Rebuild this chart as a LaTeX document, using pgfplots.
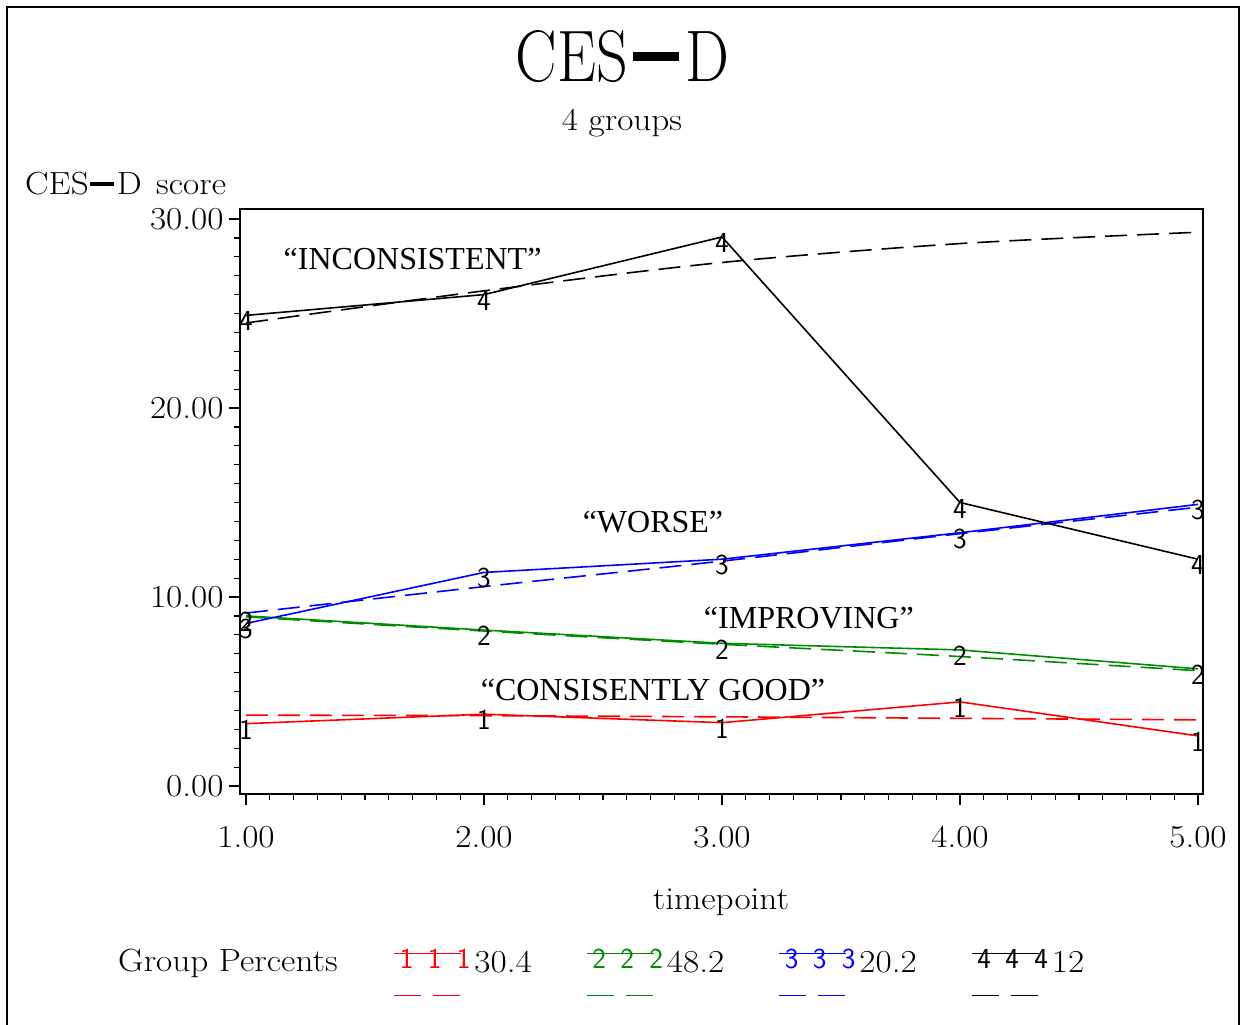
\documentclass[border=0pt]{standalone}
\usepackage{fontspec}
\setmainfont{Latin Modern Roman}[FakeStretch=1.1]
\usepackage{graphicx}
\newfontfamily\timesfont{Liberation Serif}
\newfontfamily\titlefont{Latin Modern Roman}
\newfontfamily\legfont{Latin Modern Roman}[FakeStretch=1.1]
\usepackage{pgfplots}
\pgfplotsset{compat=1.18}
\definecolor{sasgreen}{RGB}{0,140,0}
\definecolor{sasred}{RGB}{255,0,0}
\definecolor{sasblue}{RGB}{0,0,255}
\newcommand{\sasdash}{\rule[0.28em]{0.75em}{0.12em}}
\newcommand{\mkfont}{\sffamily\fontsize{29}{29}\selectfont}
\newcommand{\legtext}[1]{\raisebox{-9pt}[\height][0pt]{#1}}
\pgfplotsset{
  solidleg/.style 2 args={legend image code/.code={%
    \draw[##1, draw=#1, solid] (0pt,0pt) -- (67pt,0pt);
    \node[text=#1, inner sep=0pt, font=\mkfont] at (5pt,-6pt) {#2};
    \node[text=#1, inner sep=0pt, font=\mkfont] at (33pt,-6pt) {#2};
    \node[text=#1, inner sep=0pt, font=\mkfont] at (62pt,-6pt) {#2};}},
  dashleg/.style={legend image code/.code={\draw[##1, draw=#1, dash pattern=on 27pt off 12pt] (0pt,0pt) -- (67pt,0pt);}},
  mk/.style={mark=text, text mark={\mkfont #1}, text mark style={y=-6pt}},
  dsh/.style={dash pattern=on 22pt off 10pt},
}
\begin{document}
\begin{tikzpicture}[x=1pt,y=1pt]
\path[use as bounding box] (0,0) rectangle (1243,1025);
\draw[line width=2pt] (7,-2) -- (7,1018) -- (1239,1018) -- (1239,-2);
\node[font=\titlefont\fontsize{73}{80}\selectfont] at (622.5,968.5) {\scalebox{0.85}[1]{CES\hspace{0.08em}\sasdash\hspace{0.1em}D}};
\node[font=\fontsize{32}{38}\selectfont, anchor=base] at (622,894) {4 groups};
\node[font=\fontsize{32}{36}\selectfont, anchor=west, inner sep=0pt] at (25,841) {CES\hspace{0.05em}\sasdash\hspace{0.08em}D\hspace{0.45em}score};
\node[font=\fontsize{32}{38}\selectfont, anchor=base] at (721,115) {timepoint};
\node[font=\fontsize{32}{36}\selectfont, anchor=west, inner sep=0pt] at (118,62) {Group Percents};
\begin{axis}[
  at={(240pt,231pt)}, anchor=south west,
  scale only axis, width=963pt, height=585pt,
  xmin=0.9748, xmax=5.021, ymin=-0.423, ymax=30.53,
  xtick={1,2,3,4,5}, xticklabels={1.00,2.00,3.00,4.00,5.00},
  ytick={0,10,20,30}, yticklabels={0.00,10.00,20.00,30.00},
  minor x tick num=9, minor y tick num=9,
  xtick pos=bottom, ytick pos=left,
  tick align=outside, major tick length=11pt, minor tick length=6pt,
  tick style={line width=1.2pt, black},
  axis line style={line width=1.6pt},
  ticklabel style={font=\fontsize{32}{36}\selectfont},
  xticklabel style={yshift=-18pt},
  yticklabel style={xshift=-2pt},
  legend columns=4,
  legend style={at={(0.1558,-0.246)}, anchor=north west, draw=none, fill=none,
    font=\legfont\fontsize{32}{36}\selectfont, row sep=12pt,
    /tikz/every even column/.append style={column sep=52pt},
    /tikz/every odd column/.append style={column sep=2pt}},
  legend cell align=left,
  every axis plot/.append style={line width=1.6pt},
]
% group 1 (red)
\addplot[sasred, mk=1, forget plot] coordinates {(1,3.3) (2,3.8) (3,3.35) (4,4.45) (5,2.65)};
\addplot[sasred, dsh, smooth, forget plot] coordinates {(1,3.75) (2,3.72) (3,3.66) (4,3.58) (5,3.5)};
% group 2 (green)
\addplot[sasgreen, mk=2, forget plot] coordinates {(1,9.0) (2,8.25) (3,7.55) (4,7.2) (5,6.2)};
\addplot[sasgreen, dsh, smooth, forget plot] coordinates {(1,8.95) (2,8.2) (3,7.5) (4,6.85) (5,6.1)};
% group 3 (blue)
\addplot[sasblue, mk=3, forget plot] coordinates {(1,8.6) (2,11.3) (3,12.0) (4,13.4) (5,14.9)};
\addplot[sasblue, dsh, smooth, forget plot] coordinates {(1,9.15) (2,10.55) (3,11.9) (4,13.35) (5,14.75)};
% group 4 (black)
\addplot[black, mk=4, forget plot] coordinates {(1,24.9) (2,26.0) (3,29.05) (4,15.0) (5,12.0)};
\addplot[black, dsh, smooth, forget plot] coordinates {(1,24.5) (2,26.2) (3,27.7) (4,28.7) (5,29.3)};
% annotations
\node[font=\timesfont\fontsize{32}{36}\selectfont] at (axis cs:1.70,27.88) {“INCONSISTENT”};
\node[font=\timesfont\fontsize{32}{36}\selectfont] at (axis cs:2.71,13.97) {“WORSE”};
\node[font=\timesfont\fontsize{32}{36}\selectfont] at (axis cs:3.365,8.89) {“IMPROVING”};
\node[font=\timesfont\fontsize{32}{36}\selectfont] at (axis cs:2.71,5.08) {“CONSISENTLY GOOD”};
% legend
\addlegendimage{sasred, line width=1.6pt, solidleg={sasred}{1}}
\addlegendentry{\legtext{30.4}}
\addlegendimage{sasgreen, line width=1.6pt, solidleg={sasgreen}{2}}
\addlegendentry{\legtext{48.2}}
\addlegendimage{sasblue, line width=1.6pt, solidleg={sasblue}{3}}
\addlegendentry{\legtext{20.2}}
\addlegendimage{black, line width=1.6pt, solidleg={black}{4}}
\addlegendentry{\legtext{12}}
\addlegendimage{sasred, line width=1.6pt, dashleg=sasred}
\addlegendentry{\phantom{0}}
\addlegendimage{sasgreen, line width=1.6pt, dashleg=sasgreen}
\addlegendentry{\phantom{0}}
\addlegendimage{sasblue, line width=1.6pt, dashleg=sasblue}
\addlegendentry{\phantom{0}}
\addlegendimage{black, line width=1.6pt, dashleg=black}
\addlegendentry{\phantom{0}}
\end{axis}
\end{tikzpicture}
\end{document}
